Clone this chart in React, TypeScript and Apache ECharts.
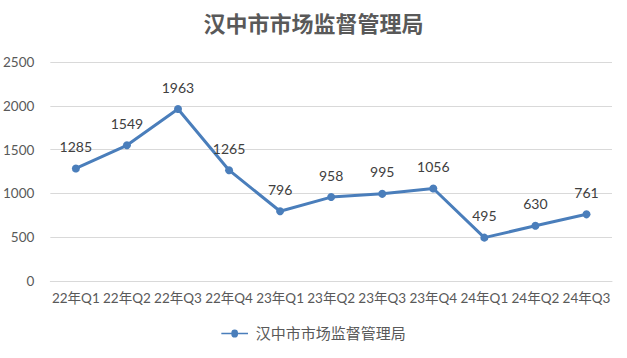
import React, { useEffect, useRef } from "react";
import * as echarts from "echarts";

const categories = ["22年Q1", "22年Q2", "22年Q3", "22年Q4", "23年Q1", "23年Q2", "23年Q3", "23年Q4", "24年Q1", "24年Q2", "24年Q3"];
const values = [1285, 1549, 1963, 1265, 796, 958, 995, 1056, 495, 630, 761];
const seriesName = "汉中市市场监督管理局";
const titleText = "汉中市市场监督管理局";

export default function App() {
  const ref = useRef<HTMLDivElement>(null);
  useEffect(() => {
    if (!ref.current) return;
    const chart = echarts.init(ref.current, null, { renderer: "svg" });
    const font = "Lato, 'Noto Sans CJK SC', sans-serif";
    chart.setOption({
      animation: false,
      backgroundColor: "#ffffff",
      title: {
        text: titleText,
        left: "center",
        top: 6,
        textStyle: { fontSize: 22, fontWeight: "bold", color: "#595959", fontFamily: "'Noto Sans CJK SC', sans-serif" },
      },
      grid: { left: 50, right: 15, top: 62, bottom: 77 },
      legend: {
        bottom: 12,
        left: "center",
        itemWidth: 32,
        itemHeight: 8,
        itemGap: 6,
        textStyle: { fontSize: 15, color: "#595959", fontFamily: font },
        data: [{ name: seriesName, icon: "path://M0,3.2 L12,3.2 A4,4 0 1,1 20,3.2 L32,3.2 L32,4.8 L20,4.8 A4,4 0 1,1 12,4.8 L0,4.8 Z" }],
      },
      xAxis: {
        type: "category",
        data: categories,
        boundaryGap: true,
        axisLine: { lineStyle: { color: "#d9d9d9", width: 1 } },
        axisTick: { show: false },
        axisLabel: { color: "#595959", fontSize: 13.5, fontFamily: font, interval: 0, margin: 10 },
      },
      yAxis: {
        type: "value",
        min: 0,
        max: 2500,
        interval: 500,
        axisLine: { show: false },
        axisTick: { show: false },
        axisLabel: { color: "#595959", fontSize: 13.5, fontFamily: font, margin: 16, formatter: (v: number) => String(v) },
        splitLine: { lineStyle: { color: "#d9d9d9" } },
      },
      series: [
        {
          name: seriesName,
          type: "line",
          data: values,
          symbol: "circle",
          symbolSize: 8,
          lineStyle: { width: 3, color: "#4a7ebb" },
          itemStyle: { color: "#4a7ebb" },
          label: { show: true, position: "top", distance: 11, color: "#404040", fontSize: 14, fontFamily: font },
        },
      ],
    });
    return () => chart.dispose();
  }, []);
  return <div ref={ref} style={{ position: "fixed", left: 0, top: 0, width: 627, height: 358 }} />;
}
